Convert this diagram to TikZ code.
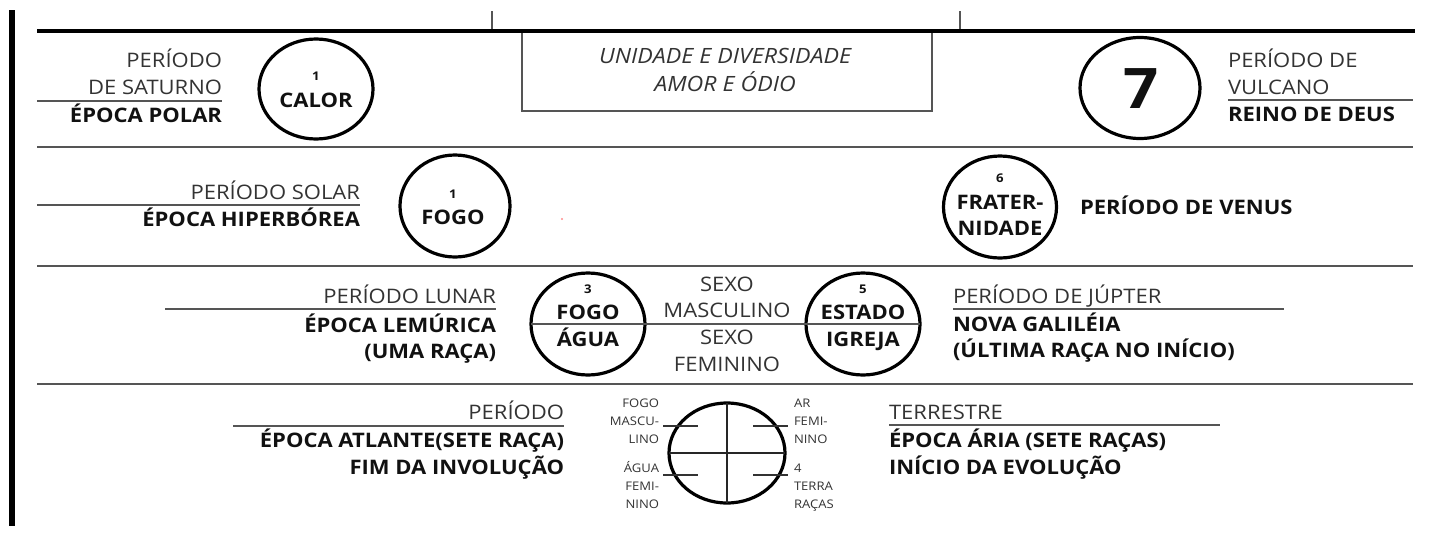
\documentclass[tikz,border=0pt]{standalone}
\usepackage{fontspec}
\setmainfont{Open Sans}[FakeStretch=1.1]
\usetikzlibrary{shapes.geometric}
\definecolor{txt}{HTML}{333333}
\definecolor{txtb}{HTML}{111111}
\definecolor{sep}{HTML}{555555}
\begin{document}
\begin{tikzpicture}[x=0.75pt,y=-0.75pt,
  every node/.style={inner sep=0pt, outer sep=0pt},
  reg/.style={font=\fontsize{15}{17}\selectfont, text=txt},
  bld/.style={font=\fontsize{15}{17}\selectfont\bfseries, text=txtb},
  ital/.style={font=\fontsize{15.8}{18}\selectfont\itshape, text=txt},
  num/.style={font=\fontsize{9}{10}\selectfont\bfseries, text=txtb},
  lab/.style={font=\fontsize{8.9}{10}\selectfont, text=txt},
  big/.style={font=\fontsize{42}{42}\selectfont\bfseries, text=txtb},
  ring/.style={draw=black, line width=2.4pt, ellipse},
  sepline/.style={draw=sep, line width=1.9pt},
  uline/.style={draw=sep, line width=1.5pt},
  cross/.style={draw=black!85, line width=1.3pt},
  tick/.style={draw=txt, line width=1.1pt},
]
\useasboundingbox (0,0) rectangle (1435,532);

% frame
\node[draw=sep, line width=1.5pt, minimum width=307.5pt, minimum height=60pt] (box) at (727,71) {};
\draw[draw=sep, line width=1.5pt] (492,11) -- (492,31);
\draw[draw=sep, line width=1.5pt] (960,11) -- (960,31);
\draw[line width=3pt] (37,31) -- (1415,31);
\draw[line width=4pt] (12,10) -- (12,526);
\foreach \yy in {147,266,384} \draw[sepline] (37,\yy) -- (1413,\yy);

% box text
\node[ital, anchor=base] (u1) at (725,63) {UNIDADE E DIVERSIDADE};
\node[ital, anchor=base] (u2) at (725,91) {AMOR E ÓDIO};

% row 1
\node[reg, anchor=base east] (p1a) at (222,67) {PERÍODO};
\node[reg, anchor=base east] (p1b) at (222,94) {DE SATURNO};
\draw[uline] (37,101) -- (222,101);
\node[bld, anchor=base east] (p1c) at (222,122) {ÉPOCA POLAR};
\node[ring, minimum width=85.5pt, minimum height=75pt] (c1) at (316,89) {};
\node[num] (n1) at (316,76) {1};
\node[bld, anchor=base] (t1) at (316,107) {CALOR};

\node[ring, minimum width=90pt, minimum height=75.75pt] (c7) at (1140,88) {};
\node[big, anchor=base] (n7) at (1141,108) {7};
\node[reg, anchor=base west] (p7a) at (1228,67) {PERÍODO DE};
\node[reg, anchor=base west] (p7b) at (1228,94) {VULCANO};
\draw[uline] (1228,100) -- (1413,100);
\node[bld, anchor=base west] (p7c) at (1228,121) {REINO DE DEUS};

% row 2
\node[reg, anchor=base east] (p2a) at (360,199) {PERÍODO SOLAR};
\draw[uline] (37,205) -- (360,205);
\node[bld, anchor=base east] (p2b) at (360,226) {ÉPOCA HIPERBÓREA};
\node[ring, minimum width=82.5pt, minimum height=76.5pt] (c2) at (455,206) {};
\node[num] (n2) at (453,194) {1};
\node[bld, anchor=base] (t2) at (453,224) {FOGO};
\fill[red!45!white] (562,219) circle (0.9pt);

\node[ring, minimum width=84.75pt, minimum height=76.5pt] (c6) at (1000,207) {};
\node[num] (n6) at (1000,178) {6};
\node[bld, anchor=base] (t6a) at (1000,209) {FRATER-};
\node[bld, anchor=base] (t6b) at (1000,235) {NIDADE};
\node[bld, anchor=base west] (p6) at (1080,214) {PERÍODO DE VENUS};

% row 3
\node[reg, anchor=base east] (p3a) at (496,303) {PERÍODO LUNAR};
\draw[uline] (165,309) -- (496,309);
\node[bld, anchor=base east] (p3b) at (496,332) {ÉPOCA LEMÚRICA};
\node[bld, anchor=base east] (p3c) at (496,358) {(UMA RAÇA)};

\node[ring, minimum width=85.5pt, minimum height=76.5pt] (c3) at (588,324) {};
\node[ring, minimum width=85.5pt, minimum height=76.5pt] (c5) at (863,324) {};
\draw[draw=sep, line width=1.5pt] (c3.west) -- (c5.east);
\node[num] (n3) at (588,289) {3};
\node[bld, anchor=base] (t3a) at (588,319) {FOGO};
\node[bld, anchor=base] (t3b) at (588,346) {ÁGUA};
\node[num] (n5) at (863,289) {5};
\node[bld, anchor=base] (t5a) at (863,319) {ESTADO};
\node[bld, anchor=base] (t5b) at (863,346) {IGREJA};
\node[reg, anchor=base] (s1) at (727,291) {SEXO};
\node[reg, anchor=base] (s2) at (727,317) {MASCULINO};
\node[reg, anchor=base] (s3) at (727,344) {SEXO};
\node[reg, anchor=base] (s4) at (727,371) {FEMININO};

\node[reg, anchor=base west] (p5a) at (953,303) {PERÍODO DE JÚPTER};
\draw[uline] (953,309) -- (1284,309);
\node[bld, anchor=base west] (p5b) at (953,331) {NOVA GALILÉIA};
\node[bld, anchor=base west] (p5c) at (953,357) {(ÚLTIMA RAÇA NO INÍCIO)};

% row 4
\node[reg, anchor=base east] (p4a) at (564,419) {PERÍODO};
\draw[uline] (233,426) -- (564,426);
\node[bld, anchor=base east] (p4b) at (564,447) {ÉPOCA ATLANTE(SETE RAÇA)};
\node[bld, anchor=base east] (p4c) at (564,474) {FIM DA INVOLUÇÃO};

\node[reg, anchor=base west] (p8a) at (889,419) {TERRESTRE};
\draw[uline] (889,425) -- (1220,425);
\node[bld, anchor=base west] (p8b) at (889,447) {ÉPOCA ÁRIA (SETE RAÇAS)};
\node[bld, anchor=base west] (p8c) at (889,474) {INÍCIO DA EVOLUÇÃO};

\node[ring, minimum width=87pt, minimum height=75pt] (c4) at (727,453) {};
\draw[cross] (c4.north) -- (c4.south);
\draw[cross] (c4.west) -- (c4.east);
\coordinate (tlu1) at (663,426); \coordinate (tlu2) at (698,426);
\coordinate (tll1) at (663,475); \coordinate (tll2) at (698,475);
\coordinate (tru1) at (753,426); \coordinate (tru2) at (788,426);
\coordinate (trl1) at (753,475); \coordinate (trl2) at (788,475);
\draw[tick] (tlu1) -- (tlu2);
\draw[tick] (tll1) -- (tll2);
\draw[tick] (tru1) -- (tru2);
\draw[tick] (trl1) -- (trl2);

\foreach \t/\yy [count=\i] in {FOGO/407, MASCU-/425, LINO/443, ÁGUA/472, FEMI-/490, NINO/508}
  \node[lab, anchor=base east] (ll\i) at (659,\yy) {\t};
\foreach \t/\yy [count=\i] in {AR/407, FEMI-/425, NINO/443, 4/472, TERRA/490, RAÇAS/508}
  \node[lab, anchor=base west] (rl\i) at (794,\yy) {\t};
\end{tikzpicture}
\end{document}
